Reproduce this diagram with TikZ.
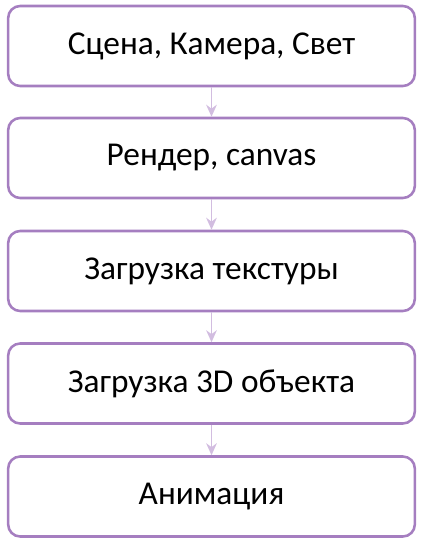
\documentclass[tikz,border=0pt]{standalone}
\usepackage{fontspec}
\setmainfont{Carlito}
\usetikzlibrary{arrows.meta}
\definecolor{boxline}{HTML}{A57EC0}
\definecolor{arrline}{HTML}{D2BDE0}
\tikzset{
  stepbox/.style={draw=boxline, line width=1.9pt, rounded corners=9pt, minimum width=305pt, minimum height=60pt, font=\fontsize{25}{29}\selectfont, inner sep=0pt},
  link/.style={draw=arrline, line width=1pt, -{Stealth[length=9pt,width=8pt]}}
}
\begin{document}
\begin{tikzpicture}[x=0.75pt,y=-0.75pt]
\useasboundingbox (0,0) rectangle (423,545);
\node[stepbox] (a) at (211.5,46) {Сцена, Камера, Свет};
\node[stepbox] (b) at (211.5,158) {Рендер, canvas};
\node[stepbox] (c) at (211.5,271) {Загрузка текстуры};
\node[stepbox] (d) at (211.5,383.5) {Загрузка 3D объекта};
\node[stepbox] (e) at (211.5,496.5) {Анимация};
\draw[link] (a) -- (b);
\draw[link] (b) -- (c);
\draw[link] (c) -- (d);
\draw[link] (d) -- (e);
\end{tikzpicture}
\end{document}
